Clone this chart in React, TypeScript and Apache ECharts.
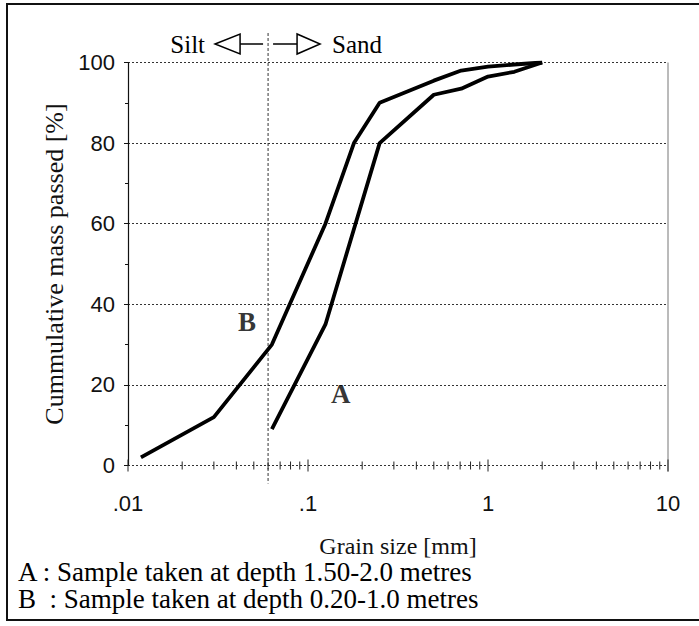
import React, { useEffect, useRef } from 'react';
import * as echarts from 'echarts';

// Grain size distribution data (mm, % passing)
const grainA = [0.063, 0.125, 0.25, 0.5, 0.71, 1.0, 1.4, 2.0];
const passA = [9, 35, 80, 92, 93.5, 96.5, 97.7, 100];
const grainB = [0.0118, 0.03, 0.063, 0.125, 0.18, 0.25, 0.5, 0.71, 1.0, 1.4, 2.0];
const passB = [2, 12, 30, 60, 80, 90, 95.5, 98, 99, 99.5, 100];

// curve labels: [x, y, text]
const curveLabels: [number, number, string][] = [
  [0.152, 17.7, 'A'],
  [0.0458, 35.7, 'B'],
];

// x-axis tick marks (major and minor)
const majorTicksX = [0.01, 0.1, 1, 10];
const minorTicksX = [
  0.02, 0.03, 0.04, 0.05, 0.06, 0.07, 0.08, 0.09,
  0.2, 0.3, 0.4, 0.5, 0.6, 0.7, 0.8, 0.9,
  2, 3, 4, 5, 6, 7, 8, 9,
];
const xTickLabels: Record<string, string> = { '0.01': '.01', '0.1': '.1', '1': '1', '10': '10' };

const siltSandBoundary = 0.06;

const legendLines = [
  'A : Sample taken at depth 1.50-2.0 metres',
  'B  : Sample taken at depth 0.20-1.0 metres',
];

const SERIF = '"Liberation Serif", "Times New Roman", serif';
const SANS = '"Liberation Sans", Arial, sans-serif';

export default function App() {
  const ref = useRef<HTMLDivElement>(null);

  useEffect(() => {
    if (!ref.current) return;
    const chart = echarts.init(ref.current, undefined, { renderer: 'svg' });

    const tickRender = (len: number) => (params: any, api: any) => {
      const p = api.coord([api.value(0), 0]);
      return {
        type: 'line',
        shape: { x1: p[0], y1: p[1] - len / 2, x2: p[0], y2: p[1] + len / 2 },
        style: { stroke: '#222', lineWidth: 1 },
      };
    };

    chart.setOption({
      animation: false,
      backgroundColor: '#fff',
      grid: { left: 128, right: 31, top: 62.5, bottom: 160.5 },
      xAxis: {
        type: 'log',
        logBase: 10,
        min: 0.01,
        max: 10,
        name: 'Grain size [mm]',
        nameLocation: 'middle',
        nameGap: 68,
        nameTextStyle: { fontFamily: SERIF, fontSize: 24, color: '#111' },
        axisLine: { show: false },
        axisTick: { show: false },
        splitLine: { show: false },
        minorTick: { show: false },
        axisLabel: {
          margin: 27,
          fontFamily: SANS,
          fontSize: 22,
          color: '#111',
          formatter: (v: number) => xTickLabels[String(v)] ?? String(v),
        },
      },
      yAxis: {
        type: 'value',
        min: 0,
        max: 100,
        interval: 20,
        name: 'Cummulative mass passed [%]',
        nameLocation: 'middle',
        nameGap: 60,
        nameTextStyle: { fontFamily: SERIF, fontSize: 26, color: '#111' },
        axisLine: { show: true, lineStyle: { color: '#111', width: 1.2 } },
        axisTick: { show: true, length: 4, lineStyle: { color: '#111' } },
        minorTick: { show: true, splitNumber: 2, length: 3, lineStyle: { color: '#111' } },
        splitLine: { show: true, lineStyle: { color: '#333', type: [2, 2], width: 1 } },
        axisLabel: { margin: 13, fontFamily: SANS, fontSize: 22, color: '#111' },
      },
      series: [
        {
          name: 'A',
          type: 'line',
          data: grainA.map((g, i) => [g, passA[i]]),
          showSymbol: false,
          lineStyle: { color: '#000', width: 3.8 },
          itemStyle: { color: '#000' },
        },
        {
          name: 'B',
          type: 'line',
          data: grainB.map((g, i) => [g, passB[i]]),
          showSymbol: false,
          lineStyle: { color: '#000', width: 3.8 },
          itemStyle: { color: '#000' },
        },
        {
          type: 'scatter',
          data: curveLabels.map((d) => [d[0], d[1], d[2]]),
          symbolSize: 0,
          label: {
            show: true,
            position: 'inside',
            formatter: (p: any) => p.value[2],
            fontFamily: SERIF,
            fontWeight: 'bold',
            fontSize: 27,
            color: '#000',
          },
        },
        {
          type: 'custom',
          data: minorTicksX.map((v) => [v, 0]),
          renderItem: tickRender(8),
          clip: false,
        },
        {
          type: 'custom',
          data: majorTicksX.map((v) => [v, 0]),
          renderItem: tickRender(12),
          clip: false,
        },
      ],
    });

    const bx = chart.convertToPixel({ xAxisIndex: 0 }, siltSandBoundary) as number;
    const rx = chart.convertToPixel({ xAxisIndex: 0 }, 10) as number;
    const ty = chart.convertToPixel({ yAxisIndex: 0 }, 100) as number;
    const by = chart.convertToPixel({ yAxisIndex: 0 }, 0) as number;
    const ay = 44;

    chart.setOption({
      graphic: [
        // outer frame
        { type: 'rect', shape: { x: 7, y: 4, width: 700, height: 616 }, style: { fill: 'none', stroke: '#111', lineWidth: 2 }, z: 100 },
        // right edge of plot
        { type: 'line', shape: { x1: rx, y1: ty, x2: rx, y2: by + 6 }, style: { stroke: '#777', lineWidth: 1 } },
        // silt/sand boundary dashed line
        { type: 'line', shape: { x1: bx, y1: 33, x2: bx, y2: by + 18 }, style: { stroke: '#333', lineWidth: 1, lineDash: [3, 2] } },
        // arrows
        { type: 'polygon', shape: { points: [[bx - 53, ay], [bx - 28, ay - 10], [bx - 28, ay + 10]] }, style: { fill: '#fff', stroke: '#000', lineWidth: 1.5 } },
        { type: 'line', shape: { x1: bx - 28, y1: ay, x2: bx - 5, y2: ay }, style: { stroke: '#000', lineWidth: 1.5 } },
        { type: 'line', shape: { x1: bx + 5, y1: ay, x2: bx + 29, y2: ay }, style: { stroke: '#000', lineWidth: 1.5 } },
        { type: 'polygon', shape: { points: [[bx + 29, ay - 10], [bx + 29, ay + 10], [bx + 52, ay]] }, style: { fill: '#fff', stroke: '#000', lineWidth: 1.5 } },
        { type: 'text', style: { text: 'Silt', x: bx - 63, y: ay, align: 'right', verticalAlign: 'middle', fontFamily: SERIF, fontSize: 25, fill: '#000' } },
        { type: 'text', style: { text: 'Sand', x: bx + 64, y: ay, align: 'left', verticalAlign: 'middle', fontFamily: SERIF, fontSize: 25, fill: '#000' } },
        // legend lines
        { type: 'text', style: { text: legendLines[0], x: 18, y: 572, align: 'left', verticalAlign: 'middle', fontFamily: SERIF, fontSize: 27, fill: '#000' } },
        { type: 'text', style: { text: legendLines[1], x: 18, y: 599, align: 'left', verticalAlign: 'middle', fontFamily: SERIF, fontSize: 27, fill: '#000' } },
      ],
    });

    return () => chart.dispose();
  }, []);

  return (
    <div
      ref={ref}
      style={{ position: 'absolute', left: 0, top: 0, width: 699, height: 626 }}
    />
  );
}
